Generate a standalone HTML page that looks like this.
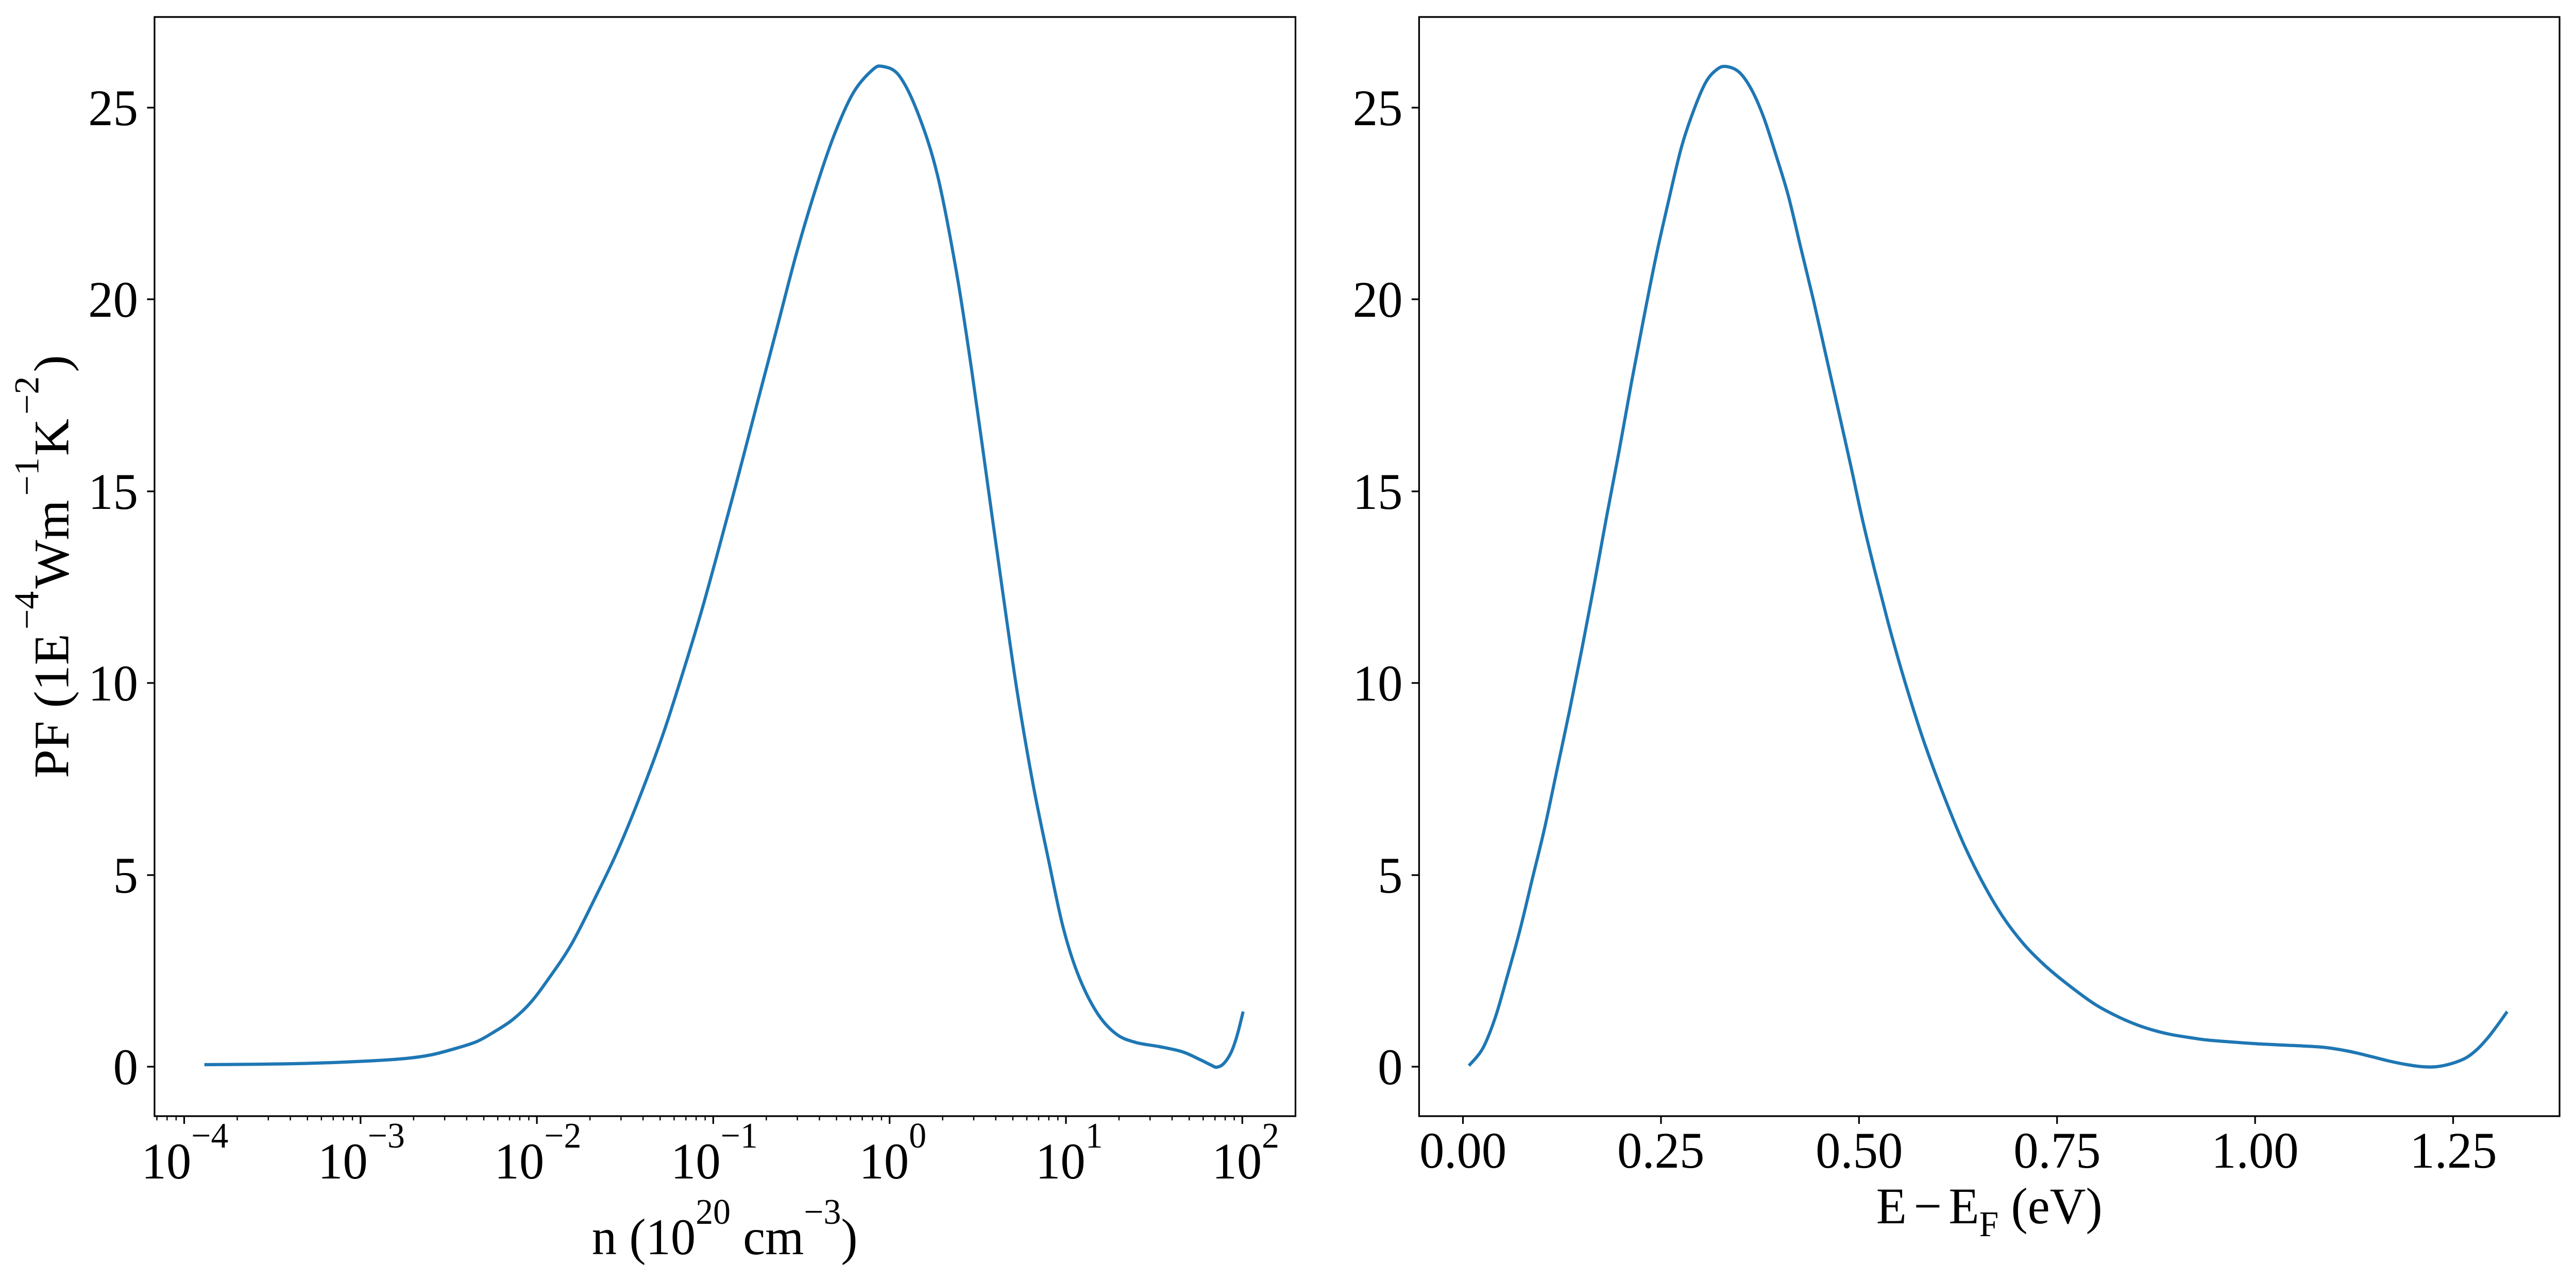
<!DOCTYPE html>
<html><head><meta charset="utf-8"><style>
html,body{margin:0;padding:0;background:#fff;width:100%;height:100%;overflow:hidden;}
svg{display:block;width:100vw;height:100vh;}
text{font-family:"Liberation Serif","Times New Roman",serif;fill:#000;}
</style></head><body>
<svg viewBox="0 0 5168 2489" preserveAspectRatio="none" xmlns="http://www.w3.org/2000/svg">
<rect width="5168" height="2489" fill="#fff"/>

<!-- LEFT AXES -->
<polyline id="c1" class="curve" fill="none" stroke="#1f77b4" stroke-width="6.25" stroke-linejoin="round" stroke-linecap="butt"
points="410,2067 533,2066 635,2064 737,2060 814,2055 865,2048 916,2035 957,2022 992,2003 1028,1980 1064,1947 1100,1901 1146,1834 1192,1747 1238,1654 1284,1546 1330,1426 1368,1312 1406,1191 1444,1058 1483,917 1521,776 1559,636 1597,495 1636,368 1674,261 1712,180 1750,136 1771,129 1804,147 1842,221 1881,341 1919,529 1949,716 1980,930 2011,1145 2041,1345 2072,1520 2103,1667 2133,1801 2164,1895 2202,1968 2240,2008 2279,2024 2326,2032 2372,2042 2407,2057 2430,2068 2441,2072 2455,2065 2470,2043 2482,2010 2494,1964"/>
<rect x="310" y="33" width="2289" height="2134" fill="none" stroke="#000" stroke-width="3.33"/>

<!-- left y ticks -->
<path stroke="#000" stroke-width="3.33" d="M295,2071H310M295,1699H310M295,1326H310M295,954H310M295,581H310M295,209H310"/>
<g font-size="100" text-anchor="end">
<text x="277" y="2105">0</text>
<text x="277" y="1733">5</text>
<text x="277" y="1360">10</text>
<text x="277" y="988">15</text>
<text x="277" y="615">20</text>
<text x="277" y="243">25</text>
</g>

<!-- left x ticks major -->
<path stroke="#000" stroke-width="3.33" d="M369.5,2167V2182M723.3,2167V2182M1077.1,2167V2182M1430.9,2167V2182M1784.7,2167V2182M2138.5,2167V2182M2492.3,2167V2182"/>
<!-- minor -->
<path stroke="#000" stroke-width="2.5" d="M314.7,2167v8.3M335.2,2167v8.3M353.3,2167v8.3
M476,2167v8.3M538.3,2167v8.3M582.5,2167v8.3M616.8,2167v8.3M644.8,2167v8.3M668.5,2167v8.3M689,2167v8.3M707.1,2167v8.3
M829.8,2167v8.3M892.1,2167v8.3M936.3,2167v8.3M970.6,2167v8.3M998.6,2167v8.3M1022.3,2167v8.3M1042.8,2167v8.3M1060.9,2167v8.3
M1183.6,2167v8.3M1245.9,2167v8.3M1290.1,2167v8.3M1324.4,2167v8.3M1352.4,2167v8.3M1376.1,2167v8.3M1396.6,2167v8.3M1414.7,2167v8.3
M1537.4,2167v8.3M1599.7,2167v8.3M1643.9,2167v8.3M1678.2,2167v8.3M1706.2,2167v8.3M1729.9,2167v8.3M1750.4,2167v8.3M1768.5,2167v8.3
M1891.2,2167v8.3M1953.5,2167v8.3M1997.7,2167v8.3M2032,2167v8.3M2060,2167v8.3M2083.7,2167v8.3M2104.2,2167v8.3M2122.3,2167v8.3
M2245,2167v8.3M2307.3,2167v8.3M2351.5,2167v8.3M2385.8,2167v8.3M2413.8,2167v8.3M2437.5,2167v8.3M2458,2167v8.3M2476.1,2167v8.3"/>
<g font-size="100" text-anchor="middle">
<text x="371" y="2288">10<tspan dy="-60" font-size="70">−4</tspan></text>
<text x="725" y="2288">10<tspan dy="-60" font-size="70">−3</tspan></text>
<text x="1079" y="2288">10<tspan dy="-60" font-size="70">−2</tspan></text>
<text x="1433" y="2288">10<tspan dy="-60" font-size="70">−1</tspan></text>
<text x="1791" y="2288">10<tspan dy="-60" font-size="70">0</tspan></text>
<text x="2145" y="2288">10<tspan dy="-60" font-size="70">1</tspan></text>
<text x="2499" y="2288">10<tspan dy="-60" font-size="70">2</tspan></text>
</g>
<text x="1454" y="2435" font-size="100" text-anchor="middle">n (10<tspan dy="-59" font-size="70">20</tspan><tspan dy="59"> cm</tspan><tspan dy="-59" font-size="70">−3</tspan><tspan dy="59">)</tspan></text>

<!-- y label -->
<text transform="translate(137,1100) rotate(-90)" font-size="100" text-anchor="middle">PF (1E<tspan dx="8" dy="-60" font-size="70">−4</tspan><tspan dx="5" dy="60">Wm</tspan><tspan dx="8" dy="-60" font-size="70">−1</tspan><tspan dx="3" dy="60">K</tspan><tspan dx="8" dy="-60" font-size="70">−2</tspan><tspan dx="8" dy="60">)</tspan></text>

<!-- RIGHT AXES -->
<polyline id="c2" class="curve" fill="none" stroke="#1f77b4" stroke-width="6.25" stroke-linejoin="round" stroke-linecap="butt"
points="2947,2069 2975,2035 3000,1975 3024,1895 3049,1807 3074,1707 3099,1607 3124,1493 3149,1379 3174,1258 3199,1131 3223,1004 3248,877 3273,743 3298,616 3323,495 3348,388 3373,287 3398,214 3422,160 3443,136 3462,129 3489,140 3514,174 3538,227 3563,301 3588,381 3613,482 3638,582 3663,689 3688,796 3713,904 3737,1011 3762,1111 3787,1205 3812,1292 3837,1372 3862,1446 3895,1533 3937,1633 3978,1714 4019,1781 4061,1834 4102,1874 4144,1908 4200,1948 4243,1971 4280,1987 4316,1999 4353,2008 4390,2014 4426,2019 4463,2022 4520,2026 4580,2029 4625,2031 4668,2034 4712,2041 4756,2051 4793,2060 4829,2067 4860,2071 4888,2071 4918,2065 4947,2054 4970,2037 4991,2015 5010,1991 5030,1964"/>
<rect x="2847" y="33" width="2288" height="2134" fill="none" stroke="#000" stroke-width="3.33"/>
<path stroke="#000" stroke-width="3.33" d="M2832,2071H2847M2832,1699H2847M2832,1326H2847M2832,954H2847M2832,581H2847M2832,209H2847"/>
<g font-size="100" text-anchor="end">
<text x="2814" y="2105">0</text>
<text x="2814" y="1733">5</text>
<text x="2814" y="1360">10</text>
<text x="2814" y="988">15</text>
<text x="2814" y="615">20</text>
<text x="2814" y="243">25</text>
</g>
<path stroke="#000" stroke-width="3.33" d="M2935,2167V2182M3332.3,2167V2182M3729.6,2167V2182M4126.9,2167V2182M4524.2,2167V2182M4921.5,2167V2182"/>
<g font-size="100" text-anchor="middle">
<text x="2935" y="2267">0.00</text>
<text x="3332" y="2267">0.25</text>
<text x="3730" y="2267">0.50</text>
<text x="4127" y="2267">0.75</text>
<text x="4524" y="2267">1.00</text>
<text x="4922" y="2267">1.25</text>
</g>
<text x="3991" y="2375" font-size="100" text-anchor="middle">E<tspan dx="14">−</tspan><tspan dx="14">E</tspan><tspan dy="25" font-size="70">F</tspan><tspan dy="-25"> (eV)</tspan></text>
</svg>
<script>
(function(){
  var NS="http://www.w3.org/2000/svg";
  var pls=document.querySelectorAll("polyline.curve");
  for(var i=0;i<pls.length;i++){
    var pl=pls[i];
    var raw=pl.getAttribute("points").trim().split(/\s+/);
    var p=raw.map(function(s){var a=s.split(",");return [parseFloat(a[0]),parseFloat(a[1])];});
    var d="M"+p[0][0]+","+p[0][1];
    for(var j=0;j<p.length-1;j++){
      var p0=p[j>0?j-1:j],p1=p[j],p2=p[j+1],p3=p[j+2<p.length?j+2:j+1];
      var c1x=p1[0]+(p2[0]-p0[0])/6,c1y=p1[1]+(p2[1]-p0[1])/6;
      var c2x=p2[0]-(p3[0]-p1[0])/6,c2y=p2[1]-(p3[1]-p1[1])/6;
      d+="C"+c1x.toFixed(1)+","+c1y.toFixed(1)+" "+c2x.toFixed(1)+","+c2y.toFixed(1)+" "+p2[0]+","+p2[1];
    }
    var path=document.createElementNS(NS,"path");
    path.setAttribute("d",d);
    path.setAttribute("fill","none");
    path.setAttribute("stroke","#1f77b4");
    path.setAttribute("stroke-width","6.25");
    path.setAttribute("stroke-linejoin","round");
    pl.parentNode.insertBefore(path,pl);
    pl.parentNode.removeChild(pl);
  }
})();
</script>
</body></html>
